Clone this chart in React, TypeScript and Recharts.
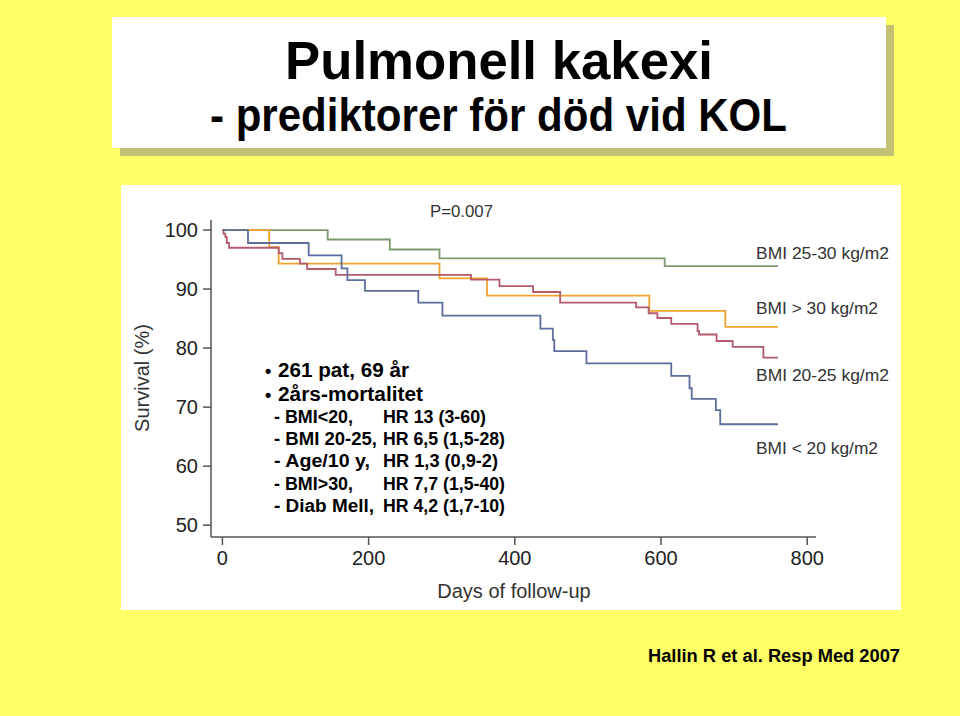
import React from 'react';
import { LineChart, Line, XAxis, YAxis } from 'recharts';

// ---- data ----
const xTicks = [0, 200, 400, 600, 800];
const yTicks = [50, 60, 70, 80, 90, 100];

const greenDays = [0, 144, 229, 297, 605, 760];
const greenSurv = [100, 98.4, 96.7, 95.2, 93.9, 93.9];

const orangeDays = [0, 64, 77, 297, 362, 584, 688, 760];
const orangeSurv = [100, 97.1, 94.3, 91.8, 88.9, 86.3, 83.6, 83.6];

const redDays = [0, 1.5, 4, 6, 9, 77, 82, 106, 116, 155, 340, 379, 425, 462, 566, 583, 595, 614, 650, 652, 676, 698, 740, 760];
const redSurv = [100, 99.4, 98.8, 97.8, 97.0, 96.1, 95.1, 94.3, 93.4, 92.4, 91.6, 90.5, 89.5, 87.7, 86.9, 85.9, 85.1, 84.1, 82.9, 82.3, 81.2, 80.2, 78.4, 78.4];

const blueDays = [0, 35, 118, 163, 171, 195, 268, 301, 435, 452, 454, 498, 614, 639, 642, 675, 681, 760];
const blueSurv = [100, 97.8, 95.7, 93.5, 91.5, 89.7, 87.7, 85.5, 83.3, 81.4, 79.5, 77.4, 75.3, 73.2, 71.4, 69.5, 67.1, 67.1];

const seriesLabels = ['BMI 25-30 kg/m2', 'BMI > 30 kg/m2', 'BMI 20-25 kg/m2', 'BMI < 20 kg/m2'];
const bulletLines = ['261 pat, 69 år', '2års-mortalitet'];
const subLeft = ['- BMI<20,', '- BMI 20-25,', '- Age/10 y,', '- BMI>30,', '- Diab Mell,'];
const subRight = ['HR 13 (3-60)', 'HR 6,5 (1,5-28)', 'HR 1,3 (0,9-2)', 'HR 7,7 (1,5-40)', 'HR 4,2 (1,7-10)'];

// layout (text widths in px)
const subLeftLen = [79, 103, 96, 79, 100];
const subRightLen = [103, 122, 115, 122, 122];

const zip = (d: number[], s: number[]) => d.map((day, i) => ({ day, s: s[i] }));
const greenData = zip(greenDays, greenSurv);
const orangeData = zip(orangeDays, orangeSurv);
const redData = zip(redDays, redSurv);
const blueData = zip(blueDays, blueSurv);

const FONT = '"Liberation Sans", Arial, Helvetica, sans-serif';
const COLORS = { green: '#7d9a6e', orange: '#f0a22e', red: '#b35a6c', blue: '#5d6d9c' };

export default function App() {
  const axisStyle = { stroke: '#555', strokeWidth: 1.5 };
  return (
    <div style={{ position: 'absolute', left: 0, top: 0, width: 960, height: 716, background: '#FFFF66', overflow: 'hidden', fontFamily: FONT }}>
      {/* title box shadow + box */}
      <div style={{ position: 'absolute', left: 120, top: 25, width: 774, height: 131, background: '#c4c175' }} />
      <div style={{ position: 'absolute', left: 112, top: 17, width: 774, height: 131, background: '#ffffff' }} />
      {/* chart panel */}
      <div style={{ position: 'absolute', left: 121, top: 185, width: 780, height: 425, background: '#ffffff' }} />
      <div style={{ position: 'absolute', left: 121, top: 185 }}>
        <LineChart width={780} height={425} margin={{ top: 35, right: 85, bottom: 13, left: 0 }}>
          <XAxis
            type="number"
            dataKey="day"
            domain={[-15.6, 812]}
            ticks={xTicks}
            allowDataOverflow
            height={60}
            tickSize={8}
            tickMargin={6}
            axisLine={axisStyle}
            tickLine={axisStyle}
            tick={{ fill: '#222', fontSize: 20, fontFamily: FONT }}
            interval={0}
          />
          <YAxis
            type="number"
            domain={[48, 101.7]}
            ticks={yTicks}
            allowDataOverflow
            width={90}
            tickSize={8}
            tickMargin={5}
            axisLine={axisStyle}
            tickLine={axisStyle}
            tick={{ fill: '#222', fontSize: 20, fontFamily: FONT }}
            interval={0}
          />
          <Line data={greenData} dataKey="s" type="stepAfter" stroke={COLORS.green} strokeWidth={1.8} dot={false} isAnimationActive={false} />
          <Line data={orangeData} dataKey="s" type="stepAfter" stroke={COLORS.orange} strokeWidth={1.8} dot={false} isAnimationActive={false} />
          <Line data={redData} dataKey="s" type="stepAfter" stroke={COLORS.red} strokeWidth={1.8} dot={false} isAnimationActive={false} />
          <Line data={blueData} dataKey="s" type="stepAfter" stroke={COLORS.blue} strokeWidth={1.8} dot={false} isAnimationActive={false} />
        </LineChart>
      </div>
      {/* text overlay */}
      <svg width={960} height={716} style={{ position: 'absolute', left: 0, top: 0, pointerEvents: 'none' }} fontFamily={FONT}>
        <text x={285} y={79} fontSize={54} fontWeight="bold" textLength={428} lengthAdjust="spacingAndGlyphs" fill="#000">Pulmonell kakexi</text>
        <text x={210} y={131} fontSize={47} fontWeight="bold" textLength={577} lengthAdjust="spacingAndGlyphs" fill="#000">- prediktorer för död vid KOL</text>

        <text x={430} y={217} fontSize={16} fill="#333" textLength={63} lengthAdjust="spacingAndGlyphs">P=0.007</text>

        <text x={756} y={259} fontSize={17} fill="#333" textLength={133} lengthAdjust="spacingAndGlyphs">{seriesLabels[0]}</text>
        <text x={756} y={314} fontSize={17} fill="#333" textLength={122} lengthAdjust="spacingAndGlyphs">{seriesLabels[1]}</text>
        <text x={756} y={381} fontSize={17} fill="#333" textLength={133} lengthAdjust="spacingAndGlyphs">{seriesLabels[2]}</text>
        <text x={756} y={454} fontSize={17} fill="#333" textLength={122} lengthAdjust="spacingAndGlyphs">{seriesLabels[3]}</text>

        <text transform="translate(149,378) rotate(-90)" textAnchor="middle" fontSize={20} fill="#333">Survival (%)</text>
        <text x={514} y={598} textAnchor="middle" fontSize={20} fill="#333">Days of follow-up</text>

        <text x={265} y={377} fontSize={18} fontWeight="bold" fill="#000">•</text>
        <text x={278} y={377} fontSize={20} fontWeight="bold" fill="#000" textLength={131} lengthAdjust="spacingAndGlyphs">{bulletLines[0]}</text>
        <text x={265} y={401} fontSize={18} fontWeight="bold" fill="#000">•</text>
        <text x={278} y={401} fontSize={20} fontWeight="bold" fill="#000" textLength={145} lengthAdjust="spacingAndGlyphs">{bulletLines[1]}</text>
        {subLeft.map((t, i) => (
          <text key={'l' + i} x={274} y={423 + i * 22.2} fontSize={18} fontWeight="bold" fill="#000" textLength={subLeftLen[i]} lengthAdjust="spacingAndGlyphs">{t}</text>
        ))}
        {subRight.map((t, i) => (
          <text key={'r' + i} x={383} y={423 + i * 22.2} fontSize={18} fontWeight="bold" fill="#000" textLength={subRightLen[i]} lengthAdjust="spacingAndGlyphs">{t}</text>
        ))}

        <text x={648} y={662} fontSize={18} fontWeight="bold" fill="#000" textLength={252} lengthAdjust="spacingAndGlyphs">Hallin R et al. Resp Med 2007</text>
      </svg>
    </div>
  );
}
